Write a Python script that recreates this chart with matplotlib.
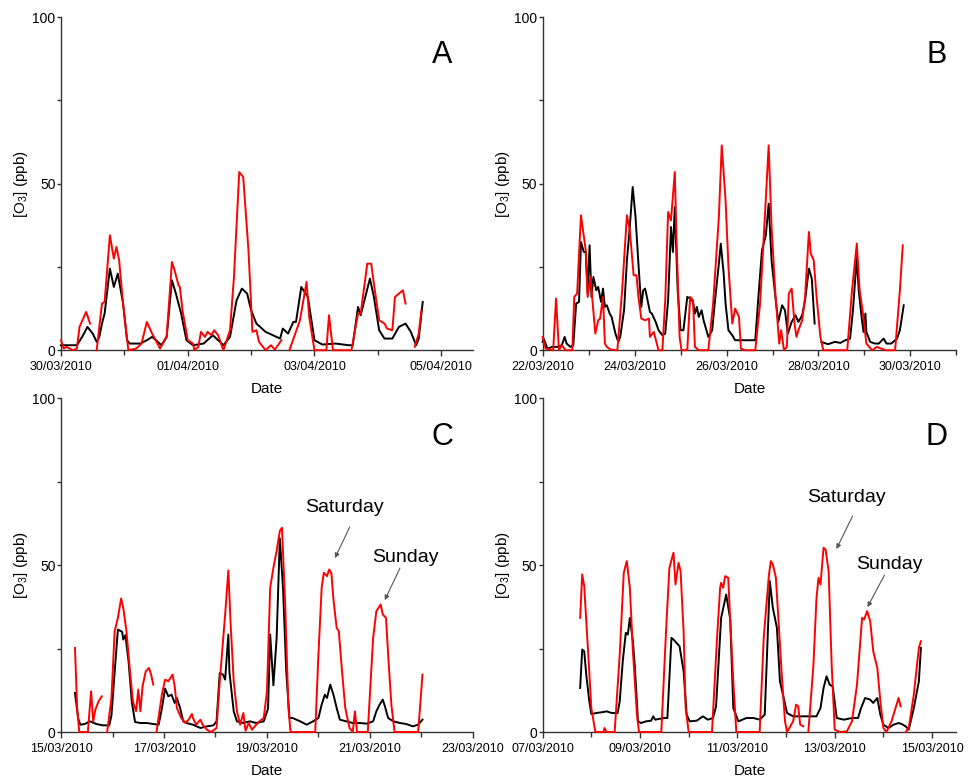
import numpy as np
import matplotlib
matplotlib.use('Agg')
import matplotlib.pyplot as plt
import matplotlib.dates as mdates

plt.rcParams['font.family'] = ['Liberation Sans', 'DejaVu Sans']
plt.rcParams['mathtext.default'] = 'regular'

nan = np.nan

# ---- panel A : start 30/03/2010, hours since start ----
a_black_h = [0, 6, 8, 10, 12, 13.5, 14.5, 15.5, 16.5, 18.5, 20, 21.5, 23.5, 25, 26, 30, 32.5, 34.5, 36, 38,
             40, 42, 43.5, 45.5, 47.5, 50, 54, 57.5, 59.5, 61.5, 64, 66.5, 68.5, 70.5, 72, 74, 77.5, 83, 84, 86,
             88, 89, 91, 93.5, 96, 99, 104, 109, 110.5, 112.5, 113.5, 117, 118.5, 120.5, 122.5, 125.5, 128,
             130.5, 132.5, 134.5, 135.5, 137]
a_black_v = [1.5, 1.5, 4, 7, 5, 2.5, 4, 8, 11, 24.5, 19, 23, 14, 3, 2, 2, 3, 4, 3, 1.5,
             4, 21, 17, 11, 3, 1.5, 2, 4.5, 3, 1.5, 4, 15, 18.5, 17, 12, 8, 5.5, 3.5, 6.5, 5,
             8.5, 8.5, 19, 16, 3, 1.7, 2, 1.5, 1.5, 13, 10.5, 21.5, 16, 6, 3.5, 3.5, 7,
             8, 5.5, 1.5, 3.5, 14.5]
a_red_h = [0, 1, 2, 4.5, 6, 7, 9.5, 11, 12, 13.5, 15.5, 16.5, 18.5, 20, 21, 22, 23.5, 25.5, 28.5, 30.5,
           32.5, 34.5, 37.5, 40, 42, 43, 44.5, 45, 46, 48, 50, 50.5, 52, 53, 54.5, 55.5, 57, 58, 59.5, 61.5,
           64, 65.5, 67.5, 69, 71, 72.5, 74, 75, 77.5, 79.5, 81, 83.5, 85, 86.5, 90.5, 93, 94, 96, 100.5, 101.5,
           103, 110, 112.5, 113.5, 116, 117.5, 118.5, 120.5, 122.5, 123.5, 125.5, 126.5, 129.5, 130.5, 132,
           134, 135.5, 136.5]
a_red_v = [3, 0.5, 1, 0, 0.5, 7, 11.5, 8, nan, 0, 14, 14.5, 34.5, 27.5, 31, 27, 14, 0, 0.5, 2,
           8.5, 5, 0.5, 4, 26.5, 24, 19.5, 19, 12, 3, 2, 0, 1, 5.5, 4, 5.5, 4.5, 6, 4.5, 0,
           6, 22, 53.5, 52, 30, 5.5, 6, 2.5, 0, 1.5, 0.2, 3, nan, 0, 9, 20.5, 10, 0, 0, 10.5,
           0, 0, 11, 11, 26, 26, 20, 9, 8, 6.5, 6, 16, 18, 14, nan,
           1, 5, 12]

# ---- panel B : start 22/03/2010 ----
b_black_h = [0, 0.5, 2.5, 5, 7.5, 10, 11.5, 12.5, 14.5, 16, 17.5, 19, 20, 21.5, 22.5, 23.5, 24.5, 25.5, 26.5, 28,
             29, 30.5, 31.5, 32.5, 33.5, 35, 36, 38, 39.5, 40.5, 42.5, 44, 45.5, 47, 48.5, 50, 51.5, 52.5, 53.5,
             55.5, 56, 57, 59, 60.5, 62.5, 64, 65.5, 67, 68, 69, 70.5, 72, 73.5, 75.5, 77, 78.5, 79.5, 80.5, 81.5,
             83, 84, 85, 86.5, 88.5, 90, 92, 93, 94.5, 95.5, 97, 99, 100.5, 105.5, 111, 112.5, 114.5, 116.5, 118,
             119.5, 121.5, 123, 125, 126.5, 128, 130, 132, 133.5, 135.5, 137, 139, 140.5, 142, 144, 145.5, 149,
             152.5, 155.5, 158, 160.5, 162, 164, 165, 166.5, 167.5, 168.5, 169, 171, 173.5, 175.5, 178, 179.5,
             182, 185, 186.5, 188.5]
b_black_v = [2.5, 3.5, 0.5, 1, 1, 1.5, 4, 2, 1, 1.5, 14, 14.5, 32.5, 29.5, 29.5, 17, 31.5, 16, 22, 18,
             19, 14.5, 18.5, 13, 13.5, 11, 10, 5, 2.5, 4, 12, 27, 37, 49, 40, 26, 13, 18, 18.5,
             13, 11.5, 11, 8.5, 6, 4.5, 5, 15, 37, 29.5, 43, 18, 6, 6, 16, 15.5, 14.5, 11, 13, 10,
             12, 9, 7, 4, 6, 15, 26, 32, 23, 14, 6, 4.5, 3, 3, 3, 15, 30, 34.5, 44,
             27, 16, 8.5, 13.5, 12, 5, 8.5, 10.5, 8.5, 10.5, 15, 24.5, 21.5, 8, nan, 2.5, 1.8,
             2.5, 2.2, 3, 3.5, 12, 28, 18, 10, 5.5, 11, 5.5, 2.5, 2, 2, 3.5, 2,
             2, 3.5, 6, 13.5]
b_red_h = [0, 1.5, 5.5, 7, 8.5, 10, 12, 15.5, 16.5, 18, 20, 22.5, 23.5, 25, 26, 27.5, 29, 30, 31.5, 32.5,
           33.5, 35.5, 39, 41.5, 44, 45.5, 47.5, 49, 50, 51.5, 53.5, 55.5, 56, 58, 60.5, 62.5, 64, 65.5, 67, 69,
           70, 71.5, 72.5, 75.5, 77, 78.5, 79.5, 81.5, 86.5, 89, 92, 93.5, 95.5, 97, 99, 100.5, 102.5, 103.5,
           105.5, 111, 113.5, 116, 118, 119.5, 121.5, 123.5, 124.5, 126, 127.5, 128.5, 130, 131.5, 132.5, 133.5,
           135.5, 137, 139, 140, 141.5, 143, 145, 146.5, 159, 161.5, 164, 165.5, 167, 169, 172, 174.5, 179, 184,
           186.5, 188]
b_red_v = [4, 0.5, 0, 15.5, 0, 1.5, 0, 0, 16, 17, 40.5, 30, 16, 22, 15, 5, 9, 9.5, 16, 2,
           1, 0.2, 0, 18, 40.5, 36, 22.5, 22.5, 16, 9.5, 9, 9.5, 4, 5.5, 0, 0, 15, 41.5, 39, 53.5,
           31, 4, 0, 0, 16, 15, 1, 0, 0, 14, 40, 61.5, 45, 25, 8, 12.5, 10, 0.5,
           0, 0, 14, 40, 61.5, 37, 17, 2, 6, 0, 1, 17, 18.5, 8, 4, 6,
           9, 16, 35.5, 29, 27, 16, 4, 0, 0, 18, 32, 18, 12, 2, 0, 1, 0, 0,
           18, 31.5]

# ---- panel C : start 15/03/2010 ----
c_black_h = [6.5, 8, 9, 11, 13.5, 16.5, 19.5, 22.5, 23.5, 25, 26.5, 28.5, 29, 30, 31.5, 33, 34.5, 37, 40, 43,
             45.5, 47, 48.5, 50, 51.5, 53, 54, 55.5, 57, 58.5, 61.5, 65, 68, 71, 72.5, 74, 75.5, 76.5, 78, 78.5,
             80.5, 82, 85, 88, 91, 94.5, 96.5, 97.5, 99, 100.5, 102, 103.5, 105, 106.5, 108, 111.5, 114.5, 117.5,
             120, 121.5, 123, 124, 125.5, 127, 128.5, 130, 133, 136, 139.5, 142.5, 145.5, 147, 148.5, 150, 151,
             152.5, 155, 158, 161, 164, 166.5, 168.5]
c_black_v = [11.7, 4, 2.2, 2.4, 3.2, 2.4, 2, 2, 5, 18, 30.7, 30, 27.7, 29, 21, 9, 3, 2.7, 2.7, 2.4,
             2.2, 7, 13, 10.7, 11.2, 8.7, 10.2, 7.2, 3.2, 2.7, 2.2, 1.2, 1.7, 2, 3.2, 17.7, 17.2, 15.7, 29.2, 18,
             6.2, 3.2, 2.7, 3.2, 2.7, 3.2, 7, 29.2, 14, 28, 58, 43, 18, 4.2, 4.2, 3.2, 2.2, 3.2,
             4.2, 8.2, 11.2, 10.2, 14.2, 11.2, 7.2, 3.7, 3.2, 2.7, 2.7, 2.5, 3.2, 6.2, 8.2, 9.7, 7.7,
             4.2, 3.2, 2.7, 2.4, 1.7, 2.2, 3.7]
c_red_h = [6.5, 7.5, 8.5, 12.5, 14, 15, 16, 17.5, 19, 20, 21.5, 23.5, 25, 26.5, 28, 29, 30.5, 32, 33.5, 35,
           36, 37, 38, 39.5, 41, 42, 43, 44, 44.5, 47, 48.5, 50, 51, 52, 53, 54, 56, 58, 59.5, 61,
           61.5, 63, 65, 66, 68, 70, 72.5, 74, 76.5, 78, 79, 80.5, 82, 83.5, 85, 86, 87.5, 89, 91, 92.5,
           94.5, 96, 97.5, 99, 100.5, 102, 103, 104.5, 106, 107, 118.5, 120, 121.5, 122.5, 124, 125, 126, 127,
           128.5, 129.5, 131, 132.5, 134.5, 136, 137, 138, 143, 145.5, 147, 149, 150, 151.5, 152.5, 154, 155.5,
           166.5, 168.5]
c_red_v = [25.2, 7.2, 0, 0, 12.2, 3.2, 6.7, 9.2, 10.7, nan, 0, 10.2, 30.2, 34.2, 40, 37.2, 30.2, 19.2, 9.2, 6.2,
           12.7, 6.2, 13.7, 18.2, 19.2, 17.2, 14.2, nan, 0, 11.2, 15.7, 15.2, 16.2, 17.2, 13.7, 7.2, 4.2, 2.7, 3.7, 5.4,
           4.2, 2.2, 3.7, 2.2, 0.7, 0, 1.2, 15.2, 35.2, 48.4, 33.2, 15.2, 6.2, 2.2, 5.7, 0.4, 2.7, 0.7, 2.2, 3.2,
           4.2, 12.2, 43.2, 49.2, 54.2, 60.2, 61.2, 38.2, 7.2, 0, 0, 23.2, 43.2, 47.7, 46.7, 48.7, 47.7, 39.7,
           31.2, 30.2, 18.2, 7.2, 1.2, 0, 6.2, 0, 0, 28.2, 36.2, 38.2, 35.2, 34.2, 23.2, 8.2, 0,
           0, 17.2]

# ---- panel D : start 07/03/2010 ----
d_black_h = [18.5, 19.5, 20.5, 21.5, 23, 24, 26.5, 30, 31.5, 34, 37, 38, 39.5, 41, 42, 43, 44.5, 45.5, 47, 48.5,
             51, 53.5, 54.5, 55.5, 58, 60, 61.5, 63.5, 64.5, 66, 67.5, 69.5, 71, 72.5, 76, 79, 81.5, 84, 85.5, 88,
             90.5, 92.5, 94, 96.5, 100.5, 104, 107, 109.5, 112, 113.5, 115.5, 117, 120.5, 123.5, 130, 135, 137,
             138.5, 140, 141.5, 143, 145, 148.5, 152.5, 155.5, 157, 159, 161.5, 163, 165, 166.5, 168, 170.5, 173,
             175.5, 177, 179, 180.5, 183, 185.5, 186.5]
d_black_v = [13.2, 24.7, 24.2, 17.2, 9.2, 5.4, 5.7, 6, 6.2, 5.7, 5.7, 9.2, 21.2, 29.7, 29.2, 34.2, 27.2, 19.2, 3.2, 2.7,
             3.2, 3.4, 4.7, 3.7, 4, 4.2, 4.2, 28.2, 27.7, 26.7, 25.7, 18.2, 5.2, 3.2, 3.4, 4.7, 3.7, 4.2, 7.7, 34.2,
             41.2, 33.7, 7.2, 3.2, 4.2, 4.2, 3.7, 5.2, 45.2, 37.2, 31.2, 15.2, 5.7, 4.7, 4.7, 4.7, 7.2,
             13.2, 16.7, 14.2, 13.7, 4.2, 3.7, 4.2, 4.2, 7.2, 10.2, 9.7, 8.7, 10.2, 5.2, 2.2, 1.2, 2.2,
             2.7, 2.4, 1.7, 0.7, 7.2, 15.2, 25.2]
d_red_h = [18.5, 19.5, 20.5, 22.5, 24, 26, 30, 30.5, 31.5, 35.5, 38, 40, 41.5, 43, 44.5, 46.5, 47.5, 58.5, 61, 62.5,
           64.5, 65.5, 67, 68, 69.5, 70.5, 72, 83.5, 86, 87.5, 88, 89, 90, 91.5, 92.5, 94, 95.5, 107, 109, 111.5,
           112.5, 113.5, 115, 116, 118, 119.5, 120.5, 123.5, 125, 126, 127, 128.5, 130, 131, 133.5, 135, 136, 137,
           138.5, 139.5, 141, 142.5, 144, 146.5, 150, 152.5, 155, 157.5, 158.5, 160, 161.5, 163, 165, 166.5, 168,
           169.5, 172, 174, 175.5, 176.5, 177.5, 179, 180.5, 183, 185.5, 186.5]
d_red_v = [34.2, 47.2, 43.7, 23.2, 7.2, 0, 0, 1.2, 0, 0, 23.2, 47.7, 51.2, 43.2, 24.2, 5.2, 0, 0, 32.2, 49.2,
           53.7, 44.2, 50.7, 48.2, 30.2, 7.2, 0, 0, 28.2, 43.2, 44.7, 43.2, 46.7, 46.2, 33.2, 15.2, 0, 0, 28.2, 46.7,
           51.2, 50.2, 46.2, 36.2, 16.2, 3.2, 0, 3.2, 8.2, 7.7, 2.2, 1.7, nan, 0, 20, 40, 46.2, 44.2,
           55.2, 54.7, 48.2, 20.2, 0.7, 0, 0.2, 3.2, 14.2, 34.2, 33.7, 36.2, 33.2, 24.2, 19.2, 9.2, 1.2,
           0, 3.2, 7.2, 10.2, 7.7, nan, 0, 1.2, 11.2, 25.2, 27.2]


def to_time(t0, hours):
    return np.datetime64(t0) + (np.array(hours) * 60).astype('timedelta64[m]')


def panel(ax, t0, span_h, bh, bv, rh, rv, letter):
    ax.plot(to_time(t0, bh), bv, color='black', lw=1.4, clip_on=False, zorder=3)
    ax.plot(to_time(t0, rh), rv, color='#ff0000', lw=1.4, clip_on=False, zorder=4)
    start = np.datetime64(t0)
    end = start + np.timedelta64(int(span_h * 60), 'm')
    ax.set_xlim(mdates.date2num(start), mdates.date2num(end))
    ax.set_ylim(0, 100)

    n_days = int(span_h // 24)
    days = [start + np.timedelta64(d, 'D') for d in range(n_days + 1)]
    major = days[::2]
    ax.set_xticks(mdates.date2num(major))
    ax.set_xticklabels([mdates.num2date(mdates.date2num(d)).strftime('%d/%m/%Y') for d in major])
    ax.set_xticks(mdates.date2num(days), minor=True)
    ax.set_yticks([0, 50, 100])
    ax.set_yticks([25, 75], minor=True)

    for s in ['top', 'right']:
        ax.spines[s].set_visible(False)
    for s in ['left', 'bottom']:
        ax.spines[s].set_linewidth(1.0)
        ax.spines[s].set_color('#333333')
    ax.tick_params(axis='x', which='major', length=4, width=1, labelsize=9, pad=4, color='#333333')
    ax.tick_params(axis='x', which='minor', length=3.5, width=1, color='#333333')
    ax.tick_params(axis='y', which='major', length=3, width=1, labelsize=10, pad=1, color='#333333')
    ax.tick_params(axis='y', which='minor', length=3, width=1, color='#333333')

    ax.set_xlabel('Date', fontsize=11)
    ax.xaxis.set_label_coords(0.5, -0.095)
    ax.set_ylabel('[O$_3$] (ppb)', fontsize=11)
    ax.yaxis.set_label_coords(-0.075, 0.5)
    ax.text(0.925 if letter in 'AC' else 0.953, 0.885, letter, transform=ax.transAxes,
            fontsize=22, ha='center', va='center')


fig = plt.figure(figsize=(9.69, 7.8), dpi=100)
axA = fig.add_axes([0.063, 0.551, 0.425, 0.427])
axB = fig.add_axes([0.560, 0.551, 0.427, 0.427])
axC = fig.add_axes([0.063, 0.0615, 0.425, 0.428])
axD = fig.add_axes([0.560, 0.0615, 0.427, 0.428])

panel(axA, '2010-03-30T00:00', 156, a_black_h, a_black_v, a_red_h, a_red_v, 'A')
panel(axB, '2010-03-22T00:00', 216, b_black_h, b_black_v, b_red_h, b_red_v, 'B')
panel(axC, '2010-03-15T00:00', 192, c_black_h, c_black_v, c_red_h, c_red_v, 'C')
panel(axD, '2010-03-07T00:00', 204, d_black_h, d_black_v, d_red_h, d_red_v, 'D')

arrow = dict(arrowstyle='-|>', color='#555555', lw=0.8, mutation_scale=7, shrinkA=0, shrinkB=0)
for ax, sat, sat_a, sun, sun_a in [
        (axC, (0.689, 0.674), ((0.701, 0.614), (0.665, 0.521)), (0.837, 0.524), ((0.823, 0.491), (0.786, 0.395))),
        (axD, (0.734, 0.704), ((0.749, 0.647), (0.710, 0.548)), (0.838, 0.503), ((0.826, 0.470), (0.785, 0.374)))]:
    ax.text(sat[0], sat[1], 'Saturday', transform=ax.transAxes, fontsize=14, ha='center', va='center')
    ax.annotate('', xy=sat_a[1], xytext=sat_a[0], xycoords='axes fraction', textcoords='axes fraction',
                arrowprops=arrow)
    ax.text(sun[0], sun[1], 'Sunday', transform=ax.transAxes, fontsize=14, ha='center', va='center')
    ax.annotate('', xy=sun_a[1], xytext=sun_a[0], xycoords='axes fraction', textcoords='axes fraction',
                arrowprops=arrow)

fig.savefig('out.png', dpi=100)
